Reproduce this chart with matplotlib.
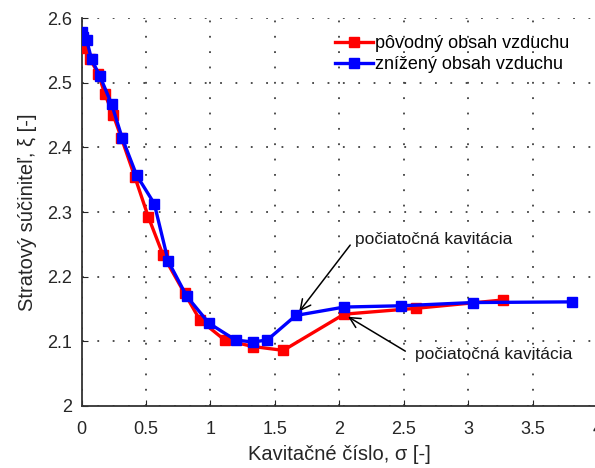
import numpy as np
import matplotlib
matplotlib.use("Agg")
import matplotlib.pyplot as plt

plt.rcParams["font.family"] = ["Liberation Sans", "DejaVu Sans"]

# ── data
sigma_orig = [0.0, 0.013, 0.065, 0.13, 0.18, 0.246, 0.31, 0.414, 0.517, 0.633,
              0.80, 0.918, 1.11, 1.33, 1.565, 2.036, 2.59, 3.27]
xi_orig = [2.566, 2.553, 2.537, 2.514, 2.483, 2.45, 2.414, 2.354, 2.293, 2.233,
           2.174, 2.133, 2.102, 2.092, 2.086, 2.142, 2.151, 2.164]

sigma_red = [0.0, 0.013, 0.04, 0.078, 0.143, 0.233, 0.316, 0.427, 0.564, 0.672,
             0.815, 0.988, 1.194, 1.326, 1.44, 1.662, 2.036, 2.48, 3.036, 3.80]
xi_red = [2.578, 2.571, 2.566, 2.536, 2.510, 2.467, 2.414, 2.357, 2.313, 2.224,
          2.170, 2.128, 2.102, 2.099, 2.102, 2.140, 2.153, 2.155, 2.160, 2.161]

labels = ["pôvodný obsah vzduchu", "znížený obsah vzduchu"]
xticks = [0, 0.5, 1, 1.5, 2, 2.5, 3, 3.5, 4]
xticklabels = ["0", "0.5", "1", "1.5", "2", "2.5", "3", "3.5", "4"]
yticks = [2.0, 2.1, 2.2, 2.3, 2.4, 2.5, 2.6]
yticklabels = ["2", "2.1", "2.2", "2.3", "2.4", "2.5", "2.6"]
annot_text = "počiatočná kavitácia"

fig = plt.figure(figsize=(5.95, 4.68), dpi=100)
ax = fig.add_axes([0.137, 0.1325, 0.867, 0.829])

ax.plot(sigma_orig, xi_orig, "-s", color="#ff0000", lw=2.4, ms=7,
        mfc="#ff0000", mec="#ff0000", label=labels[0], zorder=3)
ax.plot(sigma_red, xi_red, "-s", color="#0000ff", lw=2.4, ms=7,
        mfc="#0000ff", mec="#0000ff", label=labels[1], zorder=4)

ax.set_xlim(0, 4)
ax.set_ylim(2.0, 2.6)
ax.set_xticks(xticks)
ax.set_xticklabels(xticklabels)
ax.set_yticks(yticks)
ax.set_yticklabels(yticklabels)
ax.tick_params(direction="in", length=4, labelsize=13, colors="#262626")
ax.tick_params(axis="x", pad=11)
ax.tick_params(axis="y", pad=7)

ax.grid(True, color="#404040", lw=1.3, ls=(0, (1, 7.5)))
ax.set_axisbelow(True)
for s in ("top", "right"):
    ax.spines[s].set_visible(False)
for s in ("left", "bottom"):
    ax.spines[s].set_color("#333333")
    ax.spines[s].set_linewidth(1.3)

ax.set_xlabel("Kavitačné číslo, σ [-]", fontsize=14.5, color="#262626", labelpad=5)
ax.set_ylabel("Stratový súčiniteľ, ξ [-]", fontsize=14.5, color="#262626", labelpad=7)

# annotations
ax.annotate(annot_text, xy=(1.688, 2.146), xytext=(2.12, 2.257),
            fontsize=12.5, va="center", ha="left", color="#1a1a1a",
            arrowprops=dict(arrowstyle="->,head_length=0.6,head_width=0.3",
                            color="black", lw=1.1,
                            shrinkA=0, shrinkB=0, relpos=(-0.03, 0.15)))
ax.annotate(annot_text, xy=(2.067, 2.138), xytext=(2.584, 2.079),
            fontsize=12.5, va="center", ha="left", color="#1a1a1a",
            arrowprops=dict(arrowstyle="->,head_length=0.6,head_width=0.3",
                            color="black", lw=1.1,
                            shrinkA=0, shrinkB=0, relpos=(-0.06, 0.75)))

leg = ax.legend(loc="upper left", bbox_to_anchor=(0.491, 0.955), frameon=False,
                fontsize=13, handlelength=2.1, handletextpad=0.12,
                labelspacing=0.2, borderaxespad=0, borderpad=0)

fig.savefig("out.png", dpi=100)
